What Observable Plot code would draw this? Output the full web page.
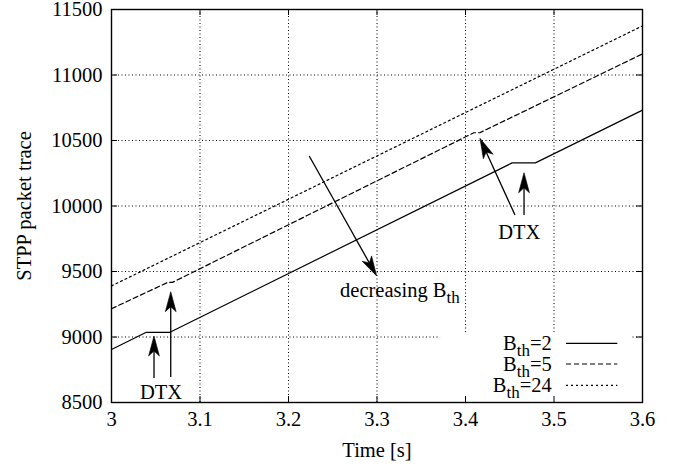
<!DOCTYPE html>
<html><head><meta charset="utf-8">
<script src="https://cdn.jsdelivr.net/npm/d3@7"></script>
<script src="https://cdn.jsdelivr.net/npm/@observablehq/plot@0.6"></script>
<style>body{margin:0;background:#fff}</style>
</head><body><div id="chart"></div>
<script>
// ---- data ----
const xTicks = [3, 3.1, 3.2, 3.3, 3.4, 3.5, 3.6];
const yTicks = [8500, 9000, 9500, 10000, 10500, 11000, 11500];
const seriesNames = ["B_{th}=2", "B_{th}=5", "B_{th}=24"];
const time2 = [3.0, 3.0388, 3.0655, 3.4527, 3.479, 3.6];
const trace2 = [8905, 9035, 9035, 10329, 10329, 10732];
const time5 = [3.0, 3.0636, 3.0689, 3.4094, 3.4161, 3.6];
const trace5 = [9216, 9417, 9417, 10559, 10559, 11161];
const time24 = [3.0, 3.6];
const trace24 = [9390, 11375];

// ---- annotations (data coordinates) ----
const arrowFrom = [[3.224, 10378], [3.0486, 8683], [3.0675, 8691], [3.4565, 9927], [3.4667, 9927]];
const arrowTo   = [[3.3002, 9462], [3.0486, 9004], [3.0675, 9342], [3.4169, 10513], [3.4667, 10250]];
const noteText = ["decreasing B_{th}", "DTX", "DTX"];
const noteX = [3.2588, 3.0565, 3.4614];
const noteY = [9304, 8521, 9742];
const noteAnchor = ["start", "middle", "middle"];
const legendBox = {x1: 3.3718, x2: 3.5864, y1: 8500, y2: 9034};
const legendTextX = 3.498, legendLineX1 = 3.5141, legendLineX2 = 3.5721;
const legendRowY = [8948, 8790, 8627];

const styles = ["none", "5,3", "2,3"];
const FONT = 20.5;

const times = [time2, time5, time24], traces = [trace2, trace5, trace24];
const rows = [];
seriesNames.forEach((s, i) => times[i].forEach((t, j) => rows.push({series: s, t, v: traces[i][j]})));

function richText(g, str, x, y, anchor) {
  const text = g.append("text").attr("x", x).attr("y", y).attr("text-anchor", anchor)
    .attr("font-size", FONT).attr("fill", "#000");
  const parts = str.split(/(_\{[^}]*\})/);
  let shifted = false;
  parts.forEach(p => {
    if (!p) return;
    if (p.startsWith("_{")) {
      text.append("tspan").attr("dy", 6).attr("font-size", 17).text(p.slice(2, -1));
      shifted = true;
    } else {
      const ts = text.append("tspan").text(p);
      if (shifted) { ts.attr("dy", -6).attr("font-size", FONT); shifted = false; }
    }
  });
}

function arrowsMark(index, scales) {
  const g = d3.create("svg:g");
  arrowFrom.forEach((f, i) => {
    const t = arrowTo[i];
    const x1 = scales.x(f[0]), y1 = scales.y(f[1]), x2 = scales.x(t[0]), y2 = scales.y(t[1]);
    const len = Math.hypot(x2 - x1, y2 - y1);
    const ux = (x2 - x1) / len, uy = (y2 - y1) / len, nx = -uy, ny = ux;
    const L = 20, W = 5.4, N = 15;
    const bx = x2 - L * ux, by = y2 - L * uy;
    const kx = x2 - N * ux, ky = y2 - N * uy;
    g.append("line").attr("x1", x1).attr("y1", y1).attr("x2", kx).attr("y2", ky)
      .attr("stroke", "#000").attr("stroke-width", 1.3);
    g.append("path")
      .attr("d", `M${x2},${y2}L${bx + W * nx},${by + W * ny}L${kx},${ky}L${bx - W * nx},${by - W * ny}Z`)
      .attr("fill", "#000").attr("stroke", "#000").attr("stroke-width", 0.6);
  });
  return g.node();
}

function notesMark(index, scales) {
  const g = d3.create("svg:g");
  noteText.forEach((s, i) => richText(g, s, scales.x(noteX[i]), scales.y(noteY[i]), noteAnchor[i]));
  return g.node();
}

function legendMark(index, scales) {
  const g = d3.create("svg:g");
  seriesNames.forEach((s, i) => {
    const y = scales.y(legendRowY[i]);
    richText(g, s, scales.x(legendTextX), y + 7, "end");
    g.append("line").attr("x1", scales.x(legendLineX1)).attr("x2", scales.x(legendLineX2))
      .attr("y1", y).attr("y2", y).attr("stroke", "#000").attr("stroke-width", 1.2)
      .attr("stroke-dasharray", styles[i]);
  });
  return g.node();
}

const plot = Plot.plot({
  width: 673, height: 464,
  marginLeft: 111, marginRight: 31, marginTop: 9, marginBottom: 62,
  style: {fontFamily: "'Liberation Serif', 'Times New Roman', serif", fontSize: FONT + "px", background: "#fff", color: "#000"},
  x: {domain: [3, 3.6], ticks: xTicks, tickFormat: d => String(d), label: "Time [s]", labelAnchor: "center", labelArrow: "none", labelOffset: 54, tickSize: 0, tickPadding: 9},
  y: {domain: [8500, 11500], ticks: yTicks, tickFormat: d => String(d), label: "STPP packet trace", labelAnchor: "center", labelArrow: "none", labelOffset: 95, tickSize: 0, tickPadding: 9},
  marks: [
    Plot.gridX(xTicks, {stroke: "#000", strokeOpacity: 1, strokeDasharray: "1,2.5", strokeWidth: 1}),
    Plot.gridY(yTicks, {stroke: "#000", strokeOpacity: 1, strokeDasharray: "1,2.5", strokeWidth: 1}),
    Plot.rect([legendBox], {x1: "x1", x2: "x2", y1: "y1", y2: "y2", fill: "#fff"}),
    ...seriesNames.map((s, i) => Plot.line(rows.filter(r => r.series === s), {x: "t", y: "v", stroke: "#000", strokeWidth: 1.2, strokeDasharray: styles[i]})),
    arrowsMark,
    notesMark,
    legendMark,
    Plot.tickX(xTicks, {x: d => d, insetTop: 387, stroke: "#000"}),
    Plot.tickX(xTicks, {x: d => d, insetBottom: 387, stroke: "#000"}),
    Plot.tickY(yTicks, {y: d => d, insetLeft: 525, stroke: "#000"}),
    Plot.tickY(yTicks, {y: d => d, insetRight: 525, stroke: "#000"}),
    Plot.frame({stroke: "#000", strokeWidth: 1.4})
  ]
});
document.getElementById("chart").appendChild(plot);
</script>
</body></html>
